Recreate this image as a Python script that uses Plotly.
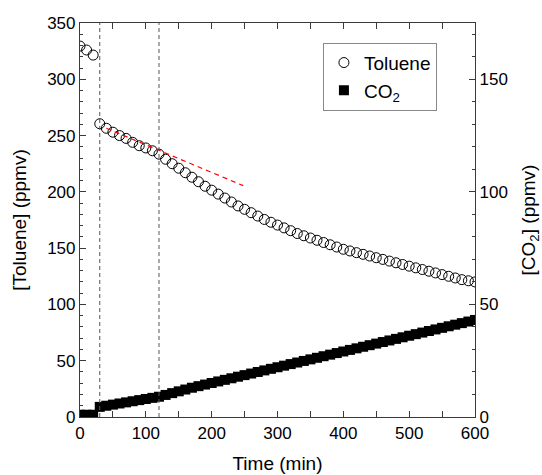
import plotly.graph_objects as go

time_min = [0, 10, 20, 30, 40, 50, 60, 70, 80, 90, 100, 110, 120, 130, 140, 150, 160, 170, 180, 190,
            200, 210, 220, 230, 240, 250, 260, 270, 280, 290, 300, 310, 320, 330, 340, 350, 360, 370, 380, 390,
            400, 410, 420, 430, 440, 450, 460, 470, 480, 490, 500, 510, 520, 530, 540, 550, 560, 570, 580, 590, 600]

toluene = [329.5, 326, 321.5, 260.5, 256.5, 253, 250, 247.5, 244, 241, 239, 236.5, 233.5, 229, 225, 221, 217, 213, 209, 205,
           201.5, 198, 194.5, 191, 187.5, 184.5, 181.5, 178.5, 175.5, 173, 170.5, 168, 165.5, 163, 161, 159, 157, 155, 153, 151,
           149, 147.5, 146, 144.5, 143, 141.5, 140, 138.5, 137, 135.5, 134, 132.5, 131, 129.5, 128, 126.5, 125, 123.5, 122, 121, 120]

co2 = [1, 1, 1, 4.5, 5, 5.5, 6, 6.5, 7, 7.5, 8, 8.5, 9, 9.8, 10.6, 11.4, 12.2, 13, 13.7, 14.4,
       15.1, 15.8, 16.5, 17.2, 17.9, 18.6, 19.3, 20, 20.7, 21.4, 22.1, 22.8, 23.5, 24.2, 24.9, 25.6, 26.3, 27, 27.7, 28.4,
       29.1, 29.8, 30.5, 31.2, 31.9, 32.6, 33.3, 34, 34.7, 35.4, 36.1, 36.8, 37.5, 38.2, 38.9, 39.6, 40.3, 41, 41.7, 42.4, 43.1]

fit_t = [40, 248]
fit_toluene = [256.5, 205.5]

phase_times = [30, 120]

FONT = "Liberation Sans, Arial, sans-serif"
AX = "#3a3a3a"

fig = go.Figure()

fig.add_trace(go.Scatter(
    x=time_min, y=co2, yaxis="y2", mode="markers", name="CO<sub>2</sub>",
    marker=dict(symbol="square", size=10, color="black", line=dict(width=0)),
))
fig.add_trace(go.Scatter(
    x=time_min, y=toluene, mode="markers", name="Toluene",
    marker=dict(symbol="circle-open", size=10, color="black", line=dict(width=1)),
))
fig.add_trace(go.Scatter(
    x=fit_t, y=fit_toluene, mode="lines", showlegend=False,
    line=dict(color="red", width=1.2, dash="5px,4px"),
))

for t in phase_times:
    fig.add_shape(type="line", xref="x", yref="paper", x0=t, x1=t, y0=0, y1=1,
                  line=dict(color="#555555", width=1, dash="4px,3px"))

fig.update_layout(
    width=542, height=475,
    margin=dict(l=80, r=67, t=23, b=58, autoexpand=False),
    paper_bgcolor="white", plot_bgcolor="white",
    font=dict(family=FONT, size=17, color="black"),
    showlegend=True,
    legend=dict(
        x=0.615, y=0.95, xanchor="left", yanchor="top",
        bordercolor="#888888", borderwidth=1, bgcolor="white",
        font=dict(size=19), traceorder="reversed",
        tracegroupgap=0,
    ),
    xaxis=dict(
        range=[0, 600], dtick=100, tick0=0, automargin=False,
        showline=True, linecolor=AX, linewidth=1.2, mirror="allticks",
        ticks="inside", ticklen=6, tickcolor=AX,
        minor=dict(ticks="inside", dtick=50, ticklen=3, tickcolor=AX),
        showgrid=False, zeroline=False,
        title=dict(text="Time (min)", font=dict(size=19)),
        tickfont=dict(size=17),
    ),
    yaxis=dict(
        range=[0, 350], dtick=50, tick0=0, automargin=False,
        showline=True, linecolor=AX, linewidth=1.2,
        ticks="inside", ticklen=6, tickcolor=AX,
        minor=dict(ticks="inside", dtick=10, ticklen=3, tickcolor=AX),
        showgrid=False, zeroline=False,
        title=dict(text="[Toluene] (ppmv)", font=dict(size=19)),
        tickfont=dict(size=17),
    ),
    yaxis2=dict(
        range=[0, 175], dtick=50, tick0=0, overlaying="y", side="right", automargin=False,
        showline=True, linecolor=AX, linewidth=1.2,
        ticks="inside", ticklen=6, tickcolor=AX,
        minor=dict(ticks="inside", dtick=10, ticklen=3, tickcolor=AX),
        showgrid=False, zeroline=False,
        title=dict(text="[CO<sub>2</sub>] (ppmv)", font=dict(size=19)),
        tickfont=dict(size=17),
    ),
)

fig.write_html("out.html")
